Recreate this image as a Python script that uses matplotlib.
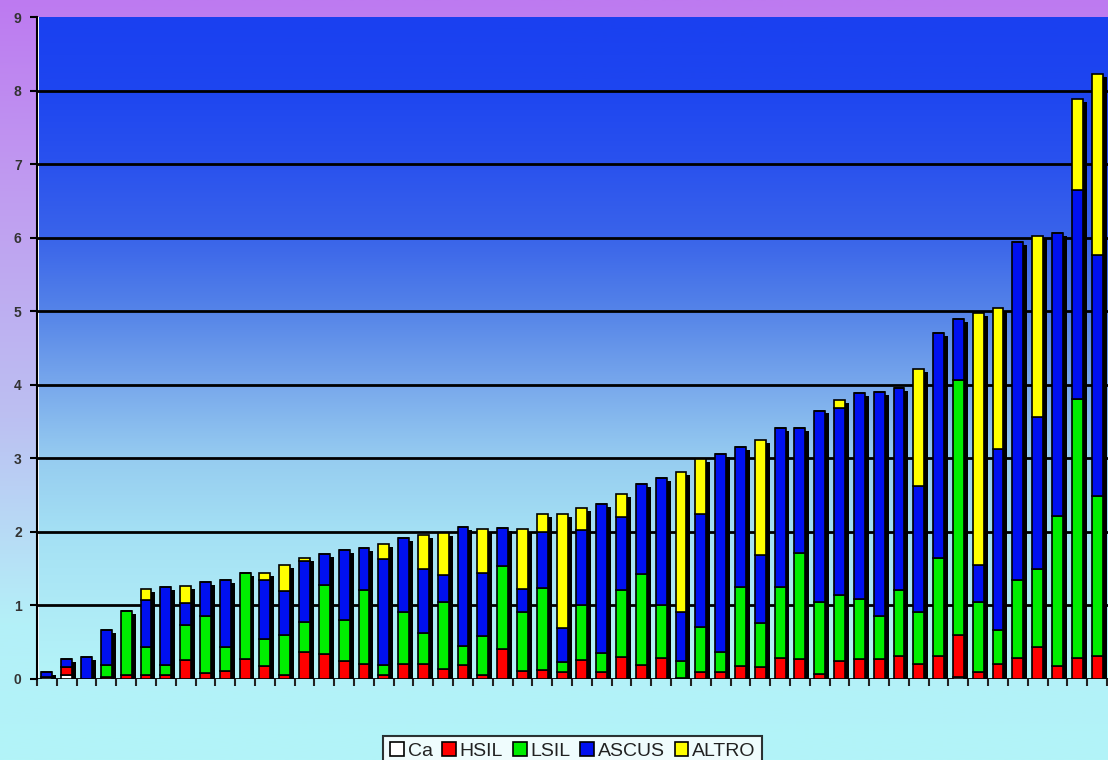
import numpy as np
import matplotlib
matplotlib.use("Agg")
import matplotlib.pyplot as plt
from matplotlib.colors import LinearSegmentedColormap
from matplotlib.patches import Patch

# segment heights for each of the 54 bars, bottom to top: Ca, HSIL, LSIL, ASCUS, ALTRO
labels = ["Ca", "HSIL", "LSIL", "ASCUS", "ALTRO"]
colors = ["#ffffff", "#ff0000", "#00ee00", "#0010f0", "#ffff00"]

ca = [0.03, 0.06, 0, 0, 0, 0, 0, 0, 0, 0, 0, 0, 0, 0, 0, 0, 0, 0,
      0, 0, 0, 0, 0, 0, 0, 0, 0, 0, 0, 0, 0, 0, 0, 0, 0, 0,
      0, 0, 0, 0, 0, 0, 0, 0, 0, 0, 0.03, 0, 0, 0, 0, 0, 0, 0]
hsil = [0, 0.10, 0, 0.03, 0.05, 0.05, 0.05, 0.26, 0.08, 0.11, 0.27, 0.18,
        0.05, 0.37, 0.34, 0.24, 0.21, 0.05, 0.21, 0.20, 0.14, 0.19, 0.05, 0.41,
        0.11, 0.12, 0.10, 0.26, 0.09, 0.30, 0.19, 0.28, 0.02, 0.09, 0.09, 0.17,
        0.16, 0.28, 0.27, 0.07, 0.24, 0.27, 0.27, 0.31, 0.21, 0.31, 0.57, 0.09,
        0.21, 0.28, 0.44, 0.17, 0.28, 0.31]
lsil = [0, 0, 0, 0.16, 0.87, 0.39, 0.14, 0.47, 0.77, 0.32, 1.17, 0.36,
        0.55, 0.41, 0.94, 0.56, 1.00, 0.14, 0.70, 0.43, 0.91, 0.26, 0.53, 1.13,
        0.80, 1.12, 0.13, 0.74, 0.26, 0.91, 1.24, 0.72, 0.23, 0.61, 0.28, 1.08,
        0.60, 0.97, 1.44, 0.98, 0.90, 0.82, 0.58, 0.90, 0.70, 1.33, 3.46, 0.96,
        0.46, 1.07, 1.05, 2.04, 3.53, 2.18]
ascus = [0.06, 0.11, 0.30, 0.48, 0, 0.64, 1.06, 0.30, 0.47, 0.92, 0, 0.81,
         0.59, 0.82, 0.42, 0.95, 0.57, 1.44, 1.01, 0.87, 0.36, 1.61, 0.86, 0.51,
         0.32, 0.76, 0.46, 1.02, 2.03, 0.99, 1.22, 1.73, 0.66, 1.54, 2.69, 1.90,
         0.92, 2.16, 1.70, 2.60, 2.55, 2.80, 3.05, 2.75, 1.71, 3.06, 0.83, 0.50,
         2.46, 4.59, 2.07, 3.85, 2.84, 3.27]
altro = [0, 0, 0, 0, 0, 0.14, 0, 0.23, 0, 0, 0, 0.09,
         0.36, 0.05, 0, 0, 0, 0.20, 0, 0.46, 0.57, 0, 0.60, 0,
         0.81, 0.24, 1.55, 0.30, 0, 0.31, 0, 0, 1.91, 0.75, 0, 0,
         1.57, 0, 0, 0, 0.10, 0, 0, 0, 1.59, 0, 0, 3.43,
         1.91, 0, 2.46, 0, 1.23, 2.47]

series = [ca, hsil, lsil, ascus, altro]
n = len(ca)
x = np.arange(n)
totals = np.sum(series, axis=0)

fig = plt.figure(figsize=(11.08, 7.6), dpi=100)

# figure background: purple at top fading to light cyan
bg = fig.add_axes([0, 0, 1, 1], zorder=-10)
bg_cmap = LinearSegmentedColormap.from_list(
    "bg", [(0, "#b2f4f8"), (0.18, "#b4f0f8"), (0.45, "#bcc0f2"), (0.75, "#c09cf0"), (1, "#bd7af0")])
bg.imshow(np.linspace(0, 1, 256).reshape(-1, 1), cmap=bg_cmap, aspect="auto",
          origin="lower", extent=(0, 1, 0, 1))
bg.set_axis_off()

ax = fig.add_axes([0.0334, 0.1066, 0.9666, 0.871])
xmin, xmax = -0.4, n - 0.45
ax.set_xlim(xmin, xmax)
ax.set_ylim(0, 9)

plot_cmap = LinearSegmentedColormap.from_list(
    "plot", [(0, "#b4f4f8"), (1 / 9, "#aeeaf6"), (2 / 9, "#a4e0f4"), (3 / 9, "#96ccf0"),
             (4 / 9, "#78a8ec"), (5 / 9, "#5584e8"), (6 / 9, "#3a64ea"), (7 / 9, "#2a52ee"),
             (8 / 9, "#1e46f0"), (1, "#1a40f0")])
ax.imshow(np.linspace(0, 1, 256).reshape(-1, 1), cmap=plot_cmap, aspect="auto",
          origin="lower", extent=(xmin, xmax, 0, 9), zorder=0)

for yv in range(0, 9):
    ax.axhline(yv, color="black", lw=2, zorder=1)

w = 0.55
# drop shadow behind each bar
ax.bar(x + 0.2, totals - 0.04, width=w, color="black", zorder=2)

bottom = np.zeros(n)
for vals, c in zip(series, colors):
    vals = np.array(vals)
    ax.bar(x, vals, width=w, bottom=bottom, color=c, edgecolor="black", linewidth=1.2, zorder=3)
    bottom += vals

ax.set_yticks(range(0, 10))
ax.set_yticklabels([str(v) for v in range(0, 10)], fontsize=10, fontweight="bold",
                   color="#333333", family="Liberation Sans")
ax.set_xticks(np.arange(-0.5, n, 1.0))
ax.set_xticklabels([])
ax.tick_params(axis="y", length=5, width=1.5, color="black", pad=6)
ax.tick_params(axis="x", length=5, width=1.5, color="#222222")
for s in ["top", "right", "bottom"]:
    ax.spines[s].set_visible(False)
ax.spines["left"].set_linewidth(1.5)
ax.spines["left"].set_zorder(4)

handles = [Patch(facecolor=c, edgecolor="black", linewidth=1.2) for c in colors]
leg = fig.legend(handles, labels, loc="upper center", bbox_to_anchor=(0.517, 0.045),
                 ncol=5, frameon=True, fancybox=False, edgecolor="black",
                 handlelength=0.7, handleheight=0.7, handletextpad=0.2, columnspacing=0.5,
                 borderpad=0.35, prop={"family": "Liberation Sans", "size": 14})
leg.get_frame().set_linewidth(1.5)
for t in leg.get_texts():
    t.set_color("#222222")

fig.savefig("out.png", dpi=100)
